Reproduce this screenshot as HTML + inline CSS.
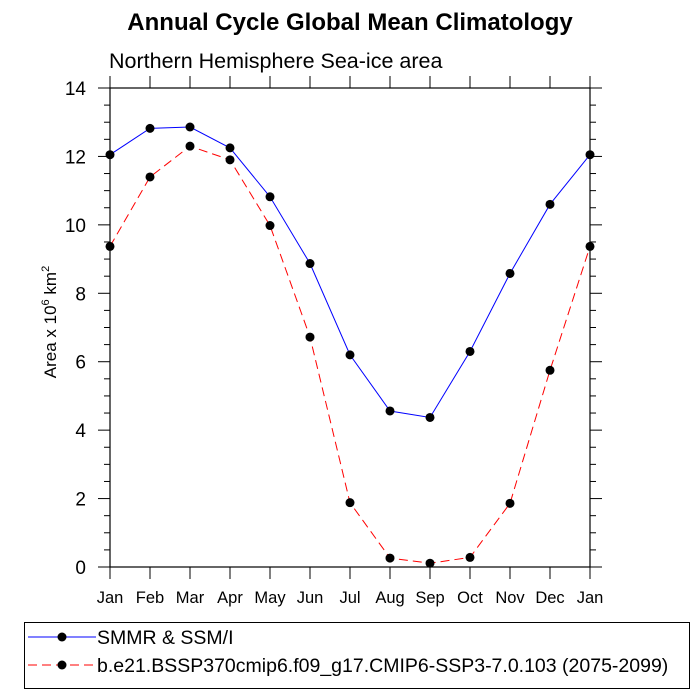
<!DOCTYPE html>
<html><head><meta charset="utf-8"><style>
body{margin:0;background:#fff}
svg{display:block;font-family:"Liberation Sans",sans-serif}
</style></head><body>
<svg id="c" width="700" height="700">
<text x="350" y="30" font-size="24" font-weight="bold" text-anchor="middle">Annual Cycle Global Mean Climatology</text>
<text x="109" y="68" font-size="21.5">Northern Hemisphere Sea-ice area</text>
<text transform="translate(56,322) rotate(-90)" font-size="17" text-anchor="middle">Area x 10<tspan font-size="11" dy="-7">6</tspan><tspan dy="7"> km</tspan><tspan font-size="11" dy="-7">2</tspan></text>
<g id="axes"></g><g id="series"></g>
<rect x="24.5" y="622.5" width="665" height="66" fill="none" stroke="#000"/>
<g>
<line x1="28" y1="637" x2="96" y2="637" stroke="#00f"/><circle cx="62" cy="637" r="4.5"/>
<text x="97" y="644" font-size="19.5">SMMR &amp; SSM/I</text></g>
<g>
<line x1="28" y1="665" x2="96" y2="665" stroke="#f00" stroke-dasharray="9,5"/><circle cx="62" cy="665" r="4.5"/>
<text x="97" y="672" font-size="19.5">b.e21.BSSP370cmip6.f09_g17.CMIP6-SSP3-7.0.103 (2075-2099)</text></g>
</svg>
<script>
const months=["Jan","Feb","Mar","Apr","May","Jun","Jul","Aug","Sep","Oct","Nov","Dec","Jan"];
const obsValues=[12.05,12.82,12.86,12.25,10.82,8.87,6.2,4.56,4.37,6.3,8.58,10.6,12.05];
const modelValues=[9.37,11.4,12.3,11.9,9.98,6.72,1.88,0.26,0.11,0.28,1.86,5.75,9.37];
const yTicks=[0,2,4,6,8,10,12,14];
const NS="http://www.w3.org/2000/svg";
const L=110,R=590,T=88,B=567,ymax=14;
const x=i=>L+i*(R-L)/(months.length-1);
const y=v=>B-v*(B-T)/ymax;
function mk(p,t,a){const e=document.createElementNS(NS,t);for(const k in a)e.setAttribute(k,a[k]);p.appendChild(e);return e;}
const ax=document.getElementById('axes');
const fr=mk(ax,'rect',{x:L,y:T,width:R-L,height:B-T,fill:'none',stroke:'#000','stroke-width':1.2});


months.forEach((m,i)=>{
 mk(ax,'line',{x1:x(i),x2:x(i),y1:B,y2:B+12,stroke:'#000'});
 mk(ax,'line',{x1:x(i),x2:x(i),y1:T,y2:T-12,stroke:'#000'});
 const t=mk(ax,'text',{x:x(i),y:B+36,'font-size':16.5,'text-anchor':'middle'});t.textContent=m;
 
 
});
for(let v=0;v<=ymax;v+=0.5){
 const maj=yTicks.includes(v);const len=maj?12:6;
 mk(ax,'line',{x1:L-len,x2:L,y1:y(v),y2:y(v),stroke:'#000'});
 mk(ax,'line',{x1:R,x2:R+len,y1:y(v),y2:y(v),stroke:'#000'});
}
yTicks.forEach(v=>{const t=mk(ax,'text',{x:86,y:y(v)+7,'font-size':19,'text-anchor':'end'});t.textContent=v;
 
 });
const sg=document.getElementById('series');
function series(vals,color,dash,name){
 const g=mk(sg,'g',{});
 
 
 const a={points:vals.map((v,i)=>x(i)+','+y(v)).join(' '),fill:'none',stroke:color,'stroke-width':1};
 if(dash)a['stroke-dasharray']=dash;
 mk(g,'polyline',a);
 vals.forEach((v,i)=>{const c=mk(g,'circle',{cx:x(i),cy:y(v),r:4.5});
  
  });
}
series(obsValues,'#00f',null,'obs-series');
series(modelValues,'#f00','9,5','model-series');
</script>
</body></html>
